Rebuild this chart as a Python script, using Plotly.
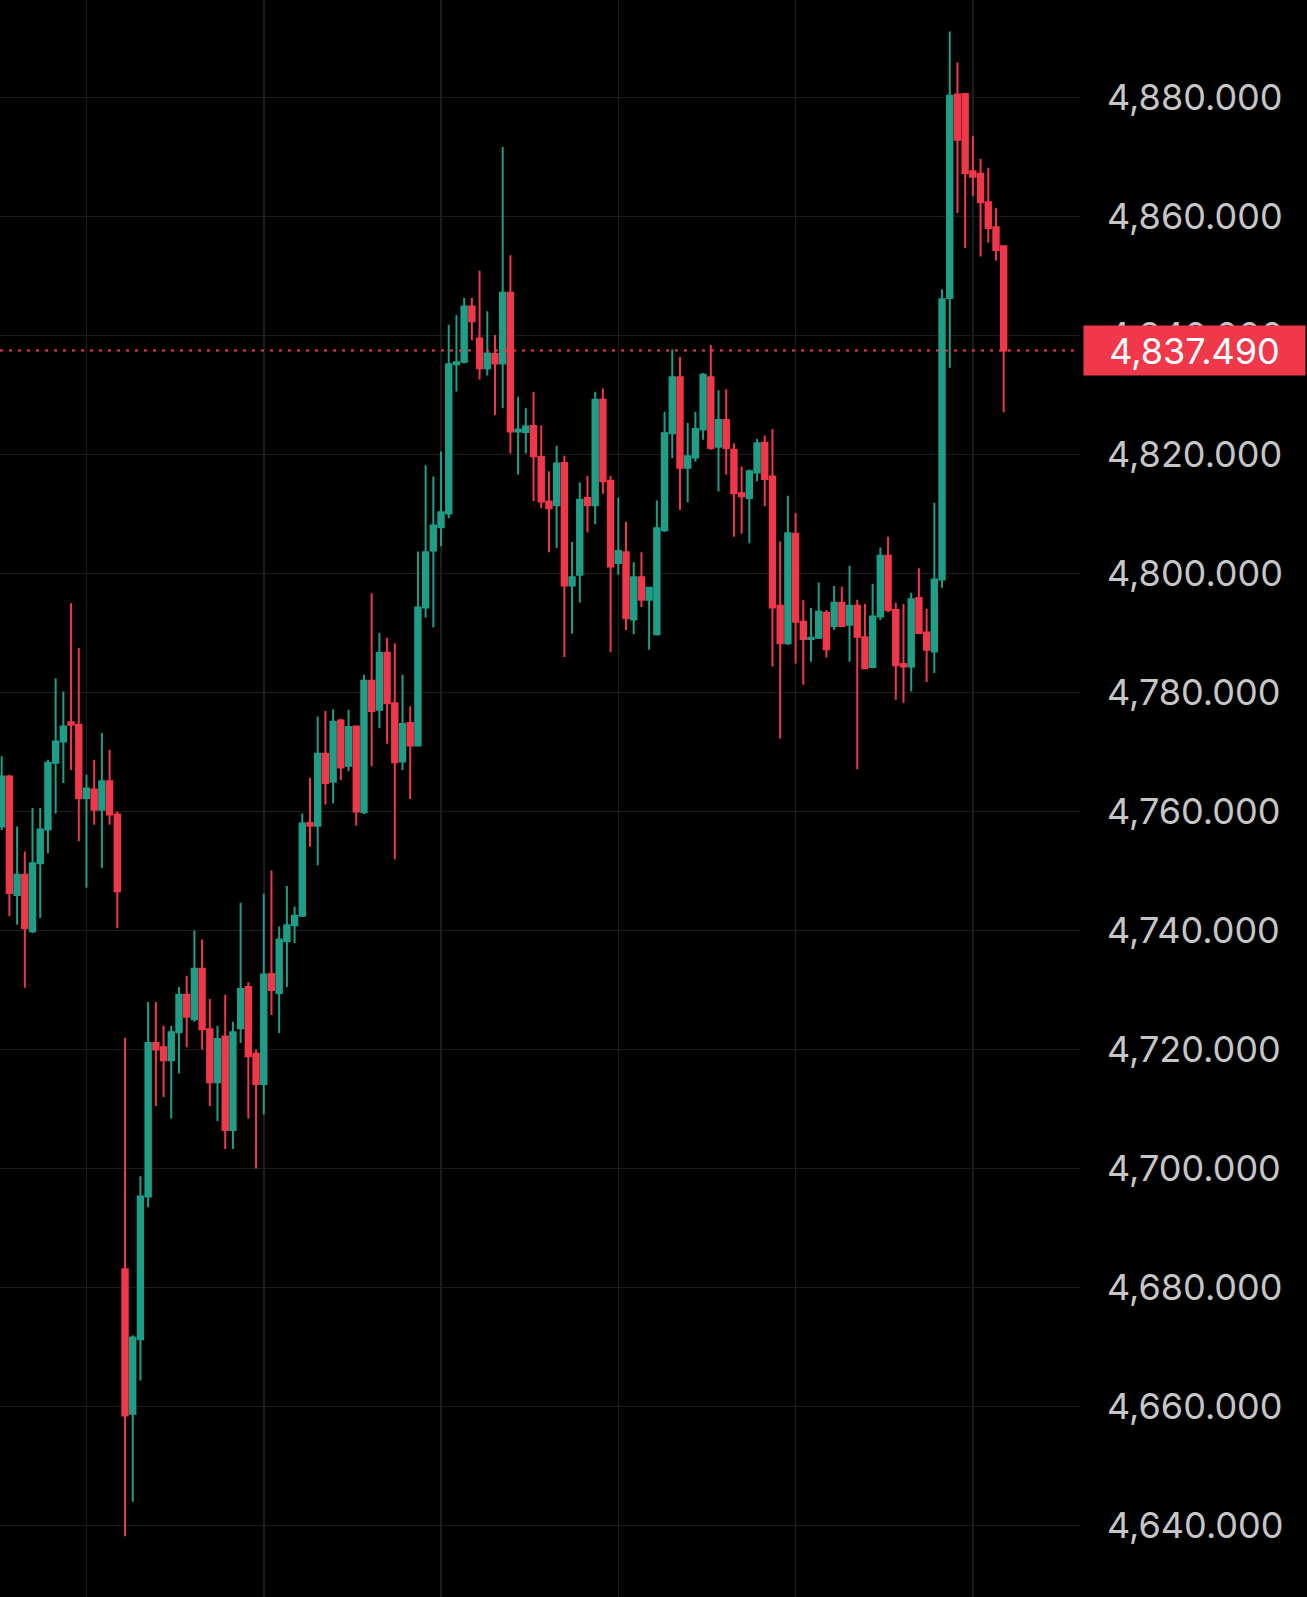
import plotly.graph_objects as go

# ---- data (hourly candles) ----
opens = [
    4757.5, 4765.9, 4746.0, 4749.4, 4739.9, 4751.3, 4757.0, 4768.2, 4771.8, 4775.0,
    4774.6, 4762.3, 4763.7, 4760.3, 4765.1, 4759.5, 4683.1, 4658.8, 4671.3, 4695.3,
    4721.1, 4720.4, 4718.2, 4722.9, 4729.2, 4725.1, 4733.6, 4723.4, 4714.5, 4722.2,
    4706.5, 4723.6, 4730.5, 4719.3, 4714.2, 4732.7, 4729.5, 4738.2, 4740.9, 4742.5,
    4758.1, 4757.6, 4769.7, 4765.0, 4775.3, 4767.7, 4774.3, 4759.9, 4782.0, 4777.1,
    4786.7, 4778.2, 4768.4, 4774.9, 4771.1, 4794.3, 4803.9, 4807.8, 4810.1, 4835.2,
    4835.6, 4844.9, 4839.5, 4834.5, 4836.9, 4835.3, 4847.2, 4823.9, 4823.8, 4824.8,
    4819.6, 4812.1, 4811.5, 4818.6, 4798.0, 4799.8, 4812.7, 4811.5, 4829.2, 4815.6,
    4801.8, 4803.6, 4792.3, 4799.4, 4795.6, 4789.8, 4807.3, 4823.6, 4833.0, 4817.8,
    4819.5, 4824.2, 4833.0, 4821.3, 4825.8, 4820.8, 4813.5, 4812.7, 4817.0, 4822.0,
    4816.3, 4794.6, 4788.3, 4806.7, 4791.9, 4789.0, 4789.2, 4793.4, 4791.2, 4795.1,
    4791.4, 4794.6, 4789.3, 4784.3, 4792.8, 4803.0, 4793.9, 4784.8, 4784.4, 4795.9,
    4790.1, 4786.9, 4799.0, 4846.3, 4880.5, 4880.6, 4867.6, 4867.2, 4862.4, 4858.2,
    4855.0,
]
highs = [
    4769.3, 4766.2, 4757.5, 4753.3, 4760.6, 4760.6, 4768.7, 4782.4, 4780.2, 4795.0,
    4787.5, 4766.2, 4768.7, 4773.2, 4770.4, 4760.0, 4722.0, 4672.0, 4698.7, 4728.0,
    4728.0, 4724.0, 4724.0, 4730.5, 4732.4, 4740.0, 4738.5, 4728.5, 4724.0, 4729.2,
    4724.7, 4744.7, 4731.3, 4720.0, 4746.2, 4750.1, 4740.7, 4747.5, 4744.0, 4759.7,
    4765.7, 4776.0, 4776.9, 4777.2, 4775.6, 4777.1, 4774.3, 4783.0, 4796.7, 4790.0,
    4789.2, 4788.3, 4783.0, 4777.7, 4803.7, 4818.2, 4816.3, 4820.5, 4841.8, 4843.4,
    4846.3, 4846.3, 4850.9, 4844.1, 4840.1, 4871.7, 4853.5, 4829.7, 4827.8, 4830.5,
    4824.9, 4817.2, 4821.5, 4819.8, 4805.3, 4815.3, 4816.4, 4830.5, 4831.1, 4816.4,
    4812.8, 4808.7, 4801.9, 4803.6, 4797.8, 4812.3, 4827.2, 4837.7, 4836.4, 4825.3,
    4827.2, 4833.7, 4838.4, 4830.8, 4831.0, 4821.9, 4818.0, 4817.5, 4822.6, 4823.2,
    4824.3, 4805.4, 4813.1, 4810.2, 4795.5, 4794.2, 4798.5, 4793.9, 4797.9, 4797.8,
    4801.3, 4795.6, 4794.9, 4798.3, 4804.4, 4806.2, 4795.1, 4794.9, 4796.8, 4800.9,
    4794.1, 4811.9, 4847.8, 4891.1, 4885.9, 4880.7, 4873.6, 4869.7, 4868.2, 4861.4,
    4855.2,
]
lows = [
    4756.9, 4742.4, 4741.0, 4730.4, 4739.6, 4742.1, 4753.0, 4759.7, 4764.8, 4767.0,
    4755.0, 4747.2, 4757.8, 4750.5, 4757.8, 4740.4, 4638.2, 4644.0, 4664.4, 4693.5,
    4710.5, 4712.0, 4708.4, 4716.0, 4720.4, 4724.7, 4720.0, 4710.5, 4708.0, 4703.3,
    4703.3, 4721.1, 4708.4, 4700.0, 4709.1, 4725.8, 4722.8, 4730.5, 4737.9, 4742.3,
    4754.1, 4751.0, 4761.2, 4761.4, 4765.3, 4766.8, 4757.6, 4759.6, 4767.6, 4774.0,
    4771.4, 4752.0, 4767.0, 4762.1, 4771.0, 4792.6, 4791.0, 4804.6, 4809.3, 4830.6,
    4835.3, 4839.2, 4832.6, 4833.3, 4826.6, 4827.8, 4820.2, 4816.6, 4820.2, 4812.2,
    4811.0, 4803.6, 4804.3, 4786.0, 4789.9, 4795.1, 4806.9, 4808.3, 4813.4, 4786.8,
    4799.8, 4790.5, 4789.8, 4794.4, 4787.2, 4789.6, 4807.0, 4819.4, 4810.7, 4812.0,
    4818.8, 4822.5, 4820.8, 4813.8, 4816.6, 4806.2, 4806.7, 4805.1, 4815.5, 4811.3,
    4784.4, 4772.3, 4788.0, 4784.9, 4781.3, 4785.2, 4789.0, 4785.9, 4790.5, 4791.1,
    4785.2, 4767.1, 4784.0, 4784.1, 4792.2, 4793.5, 4778.8, 4778.3, 4780.2, 4789.8,
    4781.8, 4783.3, 4797.6, 4834.6, 4860.6, 4854.7, 4863.4, 4853.3, 4855.6, 4852.6,
    4827.1,
]
closes = [
    4765.9, 4746.3, 4749.4, 4740.4, 4751.3, 4757.0, 4768.2, 4771.8, 4774.3, 4774.6,
    4762.3, 4763.9, 4760.3, 4765.1, 4759.5, 4746.6, 4658.5, 4671.6, 4695.3, 4721.1,
    4720.0, 4718.2, 4722.9, 4729.2, 4725.5, 4733.6, 4723.4, 4714.5, 4721.8, 4706.5,
    4722.9, 4730.2, 4718.9, 4714.2, 4732.6, 4730.0, 4738.5, 4740.9, 4742.5, 4758.0,
    4757.6, 4769.7, 4764.8, 4775.1, 4767.4, 4774.2, 4760.0, 4782.0, 4776.9, 4786.7,
    4778.2, 4768.3, 4774.7, 4771.1, 4794.3, 4803.6, 4808.1, 4810.3, 4835.2, 4835.5,
    4844.9, 4842.4, 4834.5, 4837.0, 4835.3, 4847.2, 4823.9, 4824.2, 4824.7, 4819.7,
    4812.1, 4811.0, 4818.5, 4798.0, 4799.4, 4812.4, 4811.5, 4829.2, 4815.5, 4801.2,
    4803.8, 4792.5, 4799.4, 4795.6, 4797.6, 4807.6, 4823.6, 4833.0, 4817.8, 4819.7,
    4824.3, 4833.4, 4821.1, 4825.8, 4821.1, 4813.5, 4813.0, 4817.2, 4821.9, 4815.9,
    4794.3, 4788.3, 4806.8, 4791.9, 4789.0, 4789.2, 4793.6, 4787.3, 4795.1, 4791.2,
    4794.6, 4789.4, 4784.1, 4792.8, 4803.0, 4793.9, 4784.6, 4784.4, 4795.7, 4790.0,
    4787.2, 4799.0, 4846.1, 4880.3, 4872.9, 4867.3, 4866.7, 4862.4, 4858.1, 4854.4,
    4837.49,
]
bar_index = list(range(len(closes)))
day_starts = [11, 34, 57, 80, 103, 126]
price_ticks = [4640, 4660, 4680, 4700, 4720, 4740, 4760, 4780, 4800, 4820, 4840, 4860, 4880]
last_price = closes[-1]

UP = "#1f9e87"
DOWN = "#f0384a"
GRID = "#1c1c1c"
FONT = "Inter, Roboto, sans-serif"

fig = go.Figure(go.Candlestick(
    x=bar_index, open=opens, high=highs, low=lows, close=closes,
    increasing=dict(line=dict(color=UP, width=2), fillcolor=UP),
    decreasing=dict(line=dict(color=DOWN, width=2), fillcolor=DOWN),
    whiskerwidth=0,
    hoverinfo="skip",
))

fig.add_shape(type="line", xref="paper", x0=0, x1=1, yref="y",
              y0=last_price, y1=last_price,
              line=dict(color=DOWN, width=2, dash="3px,6px"))

fig.add_annotation(
    xref="paper", x=1, xanchor="left", xshift=3,
    yref="y", y=last_price, yanchor="middle",
    text=f"{last_price:,.3f}", showarrow=False,
    font=dict(family=FONT, size=36, color="#ffffff"),
    bgcolor=DOWN, width=221, height=49, borderpad=0, align="center",
)

fig.update_layout(
    width=1307, height=1597,
    paper_bgcolor="#000000", plot_bgcolor="#000000",
    margin=dict(l=0, r=227, t=0, b=0),
    showlegend=False,
    boxgap=0.3, boxgroupgap=0,
    xaxis=dict(
        range=[-0.22, 139.9], rangeslider=dict(visible=False),
        tickvals=day_starts, showticklabels=False, ticks="",
        showgrid=True, gridcolor=GRID, gridwidth=1.5, zeroline=False,
        showline=False, fixedrange=True,
    ),
    yaxis=dict(
        side="right", range=[4628.0, 4896.4],
        tickvals=price_ticks, tickformat=",.3f",
        showgrid=True, gridcolor=GRID, gridwidth=1.5, zeroline=False,
        showline=False, ticks="", ticklabelstandoff=26,
        tickfont=dict(family=FONT, size=36, color="#c6c6c6"),
    ),
)

fig.write_html(
    "out.html",
    config={"displayModeBar": False, "staticPlot": True},
    post_script="document.body.style.margin='0';document.body.style.background='#000';",
)
